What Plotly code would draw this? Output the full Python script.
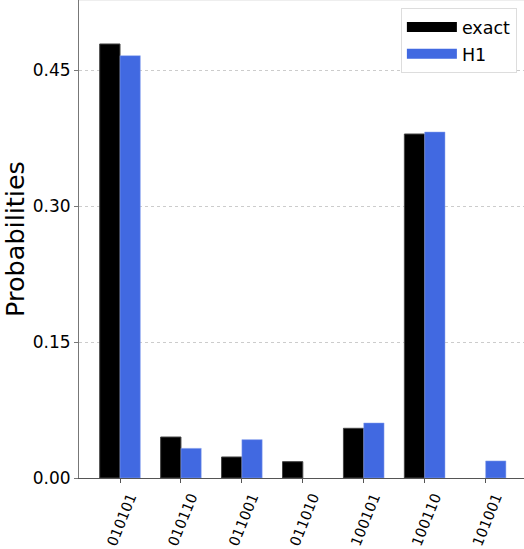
import plotly.graph_objects as go

states = ["010101", "010110", "011001", "011010", "100101", "100110", "101001"]
exact = [0.4787, 0.0452, 0.0232, 0.0180, 0.0548, 0.3794, 0.0]
h1 = [0.4658, 0.0327, 0.0423, 0.0, 0.0607, 0.3816, 0.0188]
y_ticks = [0.0, 0.15, 0.30, 0.45]
y_tick_labels = ["0.00", "0.15", "0.30", "0.45"]

FONT = "DejaVu Sans"

fig = go.Figure()
fig.add_trace(go.Bar(x=states, y=exact, name="exact",
                     marker=dict(color="black", line=dict(color="#444444", width=[1 if v > 0 else 0 for v in exact])),
                     showlegend=False))
fig.add_trace(go.Bar(x=states, y=h1, name="H1",
                     marker=dict(color="#4169E1", line=dict(color="#8ea6ee", width=[0.5 if v > 0 else 0 for v in h1])),
                     showlegend=False))
# legend entries (wide rectangles like matplotlib)
fig.add_trace(go.Scatter(x=[None], y=[None], mode="lines", name="exact", legendgroup="a",
                         line=dict(color="black", width=13)))
fig.add_trace(go.Scatter(x=[None], y=[None], mode="lines", name="H1", legendgroup="b",
                         line=dict(color="#4169E1", width=13)))

fig.update_layout(
    width=524, height=549,
    margin=dict(l=79, r=0, t=0, b=71, pad=0, autoexpand=False),
    paper_bgcolor="white", plot_bgcolor="white",
    barmode="group", bargap=1/3, bargroupgap=0,
    font=dict(family=FONT, size=16.5, color="black"),
    legend=dict(x=0.984, y=0.983, xanchor="right", yanchor="top",
                bgcolor="white", bordercolor="#dddddd", borderwidth=1,
                font=dict(size=17.5), itemwidth=50, tracegroupgap=1),
    shapes=[dict(type="line", xref="paper", yref="paper", x0=0, x1=1, y0=1, y1=1,
                 line=dict(color="#dddddd", width=1))],
)
fig.update_xaxes(
    type="category", range=[-0.673, 6.63],
    showline=True, linecolor="#555555", linewidth=1,
    ticks="outside", ticklen=4, tickcolor="#555555",
    tickangle=-68, tickfont=dict(size=14.5), ticklabelshift=10,
    showgrid=False, zeroline=False,
)
fig.update_yaxes(
    range=[0, 0.5272],
    tickvals=y_ticks, ticktext=y_tick_labels,
    showline=True, linecolor="#777777", linewidth=1,
    ticks="outside", ticklen=4, tickcolor="#777777",
    tickfont=dict(size=17),
    showgrid=True, gridcolor="#cccccc", griddash="dot", gridwidth=1,
    zeroline=False,
    title=dict(text="Probabilities", font=dict(size=25.5), standoff=0),
)
fig.write_html("out.html", config={"displayModeBar": False},
               post_script="document.body.style.margin='0';document.body.style.padding='0';")
